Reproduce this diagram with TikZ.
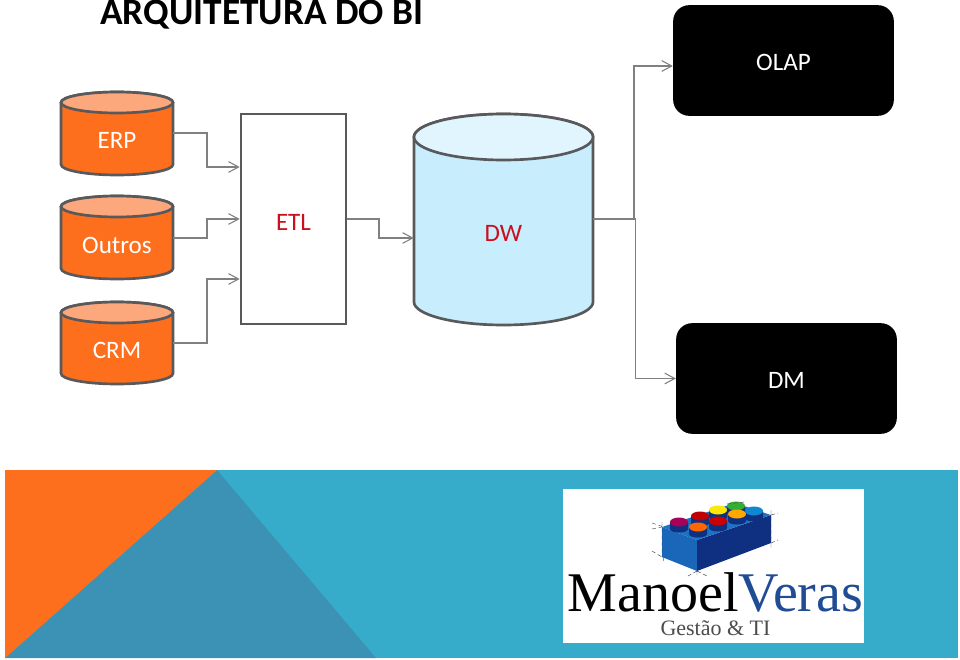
\documentclass[tikz,border=0pt]{standalone}
\usepackage{fontspec}
\setmainfont{Liberation Sans}
\newfontfamily\labelfont{Carlito}
\newfontfamily\logofont{Liberation Serif}
\usetikzlibrary{arrows.meta}
\definecolor{orangeA}{HTML}{FD6F1C}
\definecolor{orangeB}{HTML}{FCA77C}
\definecolor{edgeA}{HTML}{59595B}
\definecolor{wireA}{HTML}{808080}
\definecolor{dwbody}{HTML}{C8EDFD}
\definecolor{dwtop}{HTML}{E0F5FD}
\definecolor{redA}{HTML}{CC0F1F}
\definecolor{tealA}{HTML}{36ACCA}
\definecolor{tealB}{HTML}{3C92B5}
\definecolor{brickA}{HTML}{1A66B8}
\definecolor{brickB}{HTML}{0F2F80}
\definecolor{brickC}{HTML}{1E72C4}
\definecolor{veras}{HTML}{1F4C94}
\tikzset{
  x=0.75pt,y=-0.75pt,
  wire/.style={draw=wireA,line width=1pt,-{Straight Barb[length=7.5pt,width=8pt,line width=0.8pt]}},
  wireplain/.style={draw=wireA,line width=1pt},
  blackbox/.style={fill=black,rounded corners=12pt,inner sep=0pt,minimum width=165.5pt,minimum height=83pt},
  anchorbox/.style={inner sep=0pt,minimum width=84pt,minimum height=62pt},
  cyllabel/.style={text=white,font=\labelfont\fontsize{18.8}{18}\selectfont,inner sep=0pt},
  redlabel/.style={text=redA,font=\labelfont\fontsize{18.8}{18}\selectfont,inner sep=0pt},
  tick/.style={draw=black!70,line width=0.35pt,densely dashed}
}
% left x, right x, top y, bottom y, half ellipse height, body colour, top colour
\newcommand{\drum}[7]{%
  \path[draw=edgeA,line width=2pt,fill=#6] (#1,#3+#5) -- (#1,#4-#5) arc[start angle=180,end angle=0,x radius={(#2-#1)/2},y radius=#5] -- (#2,#3+#5) arc[start angle=0,end angle=-180,x radius={(#2-#1)/2},y radius=#5] -- cycle;
  \path[draw=edgeA,line width=2pt,fill=#7] ({(#1+#2)/2},#3+#5) ellipse[x radius={(#2-#1)/2},y radius=#5];
}
\newcommand{\studmark}[4]{%
  \fill[#4] (#1-9,#2) -- (#1-9,#2+7) arc[start angle=180,end angle=0,x radius=9,y radius=3.5] -- (#1+9,#2) -- cycle;
  \fill[#3] (#1,#2) ellipse[x radius=9,y radius=4.5];
}
\begin{document}
\begin{tikzpicture}
\useasboundingbox (0,0) rectangle (960,660);
\fill[white] (0,0) rectangle (960,660);

% bottom band
\fill[tealA] (5,470) rectangle (958,658);
\fill[tealB] (217,470) -- (376,658) -- (5,658) -- cycle;
\fill[orangeA] (5,470) -- (217,470) -- (5,658) -- cycle;

% title
\node[anchor=base west,inner sep=0pt,font=\labelfont\bfseries\fontsize{28}{28}\selectfont] (title) at (100,25) {ARQUITETURA DO BI};

% source cylinders
\drum{61}{173}{92}{175}{10.5}{orangeA}{orangeB}
\node[anchorbox] (erp) at (117,133) {};
\node[cyllabel] (erplabel) at (117,140) {ERP};

\drum{61}{173}{196}{279}{10.5}{orangeA}{orangeB}
\node[anchorbox] (outros) at (117,238) {};
\node[cyllabel] (outroslabel) at (117,245) {Outros};

\drum{61}{173}{302}{384}{10.5}{orangeA}{orangeB}
\node[anchorbox] (crm) at (117,343) {};
\node[cyllabel] (crmlabel) at (117,350) {CRM};

% ETL
\node[draw=edgeA,line width=2pt,fill=white,inner sep=0pt,minimum width=78.75pt,minimum height=157.5pt] (etl) at (293.5,219) {};
\node[redlabel] (etllabel) at (293.5,222) {ETL};

% DW
\drum{414}{593}{114}{325}{23}{dwbody}{dwtop}
\node[inner sep=0pt,minimum width=134.25pt,minimum height=157.5pt] (dw) at (503.5,219) {};
\node[redlabel] (dwlabel) at (503.5,233) {DW};

% OLAP and DM
\node[blackbox] (olap) at (783.5,60.5) {};
\node[cyllabel] (olaplabel) at (783.5,62.5) {OLAP};
\node[blackbox] (dm) at (786.5,378.5) {};
\node[cyllabel] (dmlabel) at (786.5,380.5) {DM};

% connectors
\coordinate (etlA) at (etl.west |- 0,167);
\coordinate (etlB) at (etl.west |- 0,219);
\coordinate (etlC) at (etl.west |- 0,279);
\coordinate (dwIn) at (dw.west |- 0,238);
\coordinate (olapIn) at (olap.west |- 0,66);
\draw[wire] (erp.east) -| (207,167) -- (etlA);
\draw[wire] (outros.east) -| (207,219) -- (etlB);
\draw[wire] (crm.east) -| (207,279) -- (etlC);
\draw[wire] (etl.east) -| (379,238) -- (dwIn);
\draw[wireplain] (dw.east) -- (635.5,219);
\draw[wire] (634,219) |- (olapIn);
\draw[wire] (635.5,219) |- (dm.west);

% logo
\node[fill=white,inner sep=0pt,minimum width=226pt,minimum height=115.5pt] (logo) at (713.5,566) {};
% brick
\fill[brickA] (662,527) -- (697,540) -- (697,571) -- (662,557) -- cycle;
\fill[brickB] (697,540) -- (771,515) -- (771,543) -- (697,571) -- cycle;
\fill[brickC] (662,527) -- (697,540) -- (771,515) -- (735,503) -- cycle;
\studmark{736}{506}{green!60!black!80}{brickB}
\studmark{718}{510}{yellow!90!orange}{brickB}
\studmark{754}{511}{cyan!70!blue}{brickB}
\studmark{700}{516}{red!75!black}{brickB}
\studmark{737}{514}{orange!70!yellow}{brickB}
\studmark{679}{522}{violet!70!red}{brickB}
\studmark{718}{521}{red!80!black}{brickB}
\studmark{698}{527}{orange!80!red}{brickB}
\draw[tick] (652,523) -- (664,527) (652,529) -- (662,527) (662,522) -- (662,557) (652,551) -- (662,557) (663,557) -- (664,562);
\draw[tick] (697,571) -- (688,576) (697,571) -- (707,576) (697,571) -- (697,576);
\draw[tick] (771,510) -- (771,549) (771,515) -- (778,513) (771,543) -- (778,540);
\draw[tick] (727,504) -- (745,502);
\node[anchor=base,inner sep=0pt,font=\logofont\fontsize{42}{42}\selectfont] (logoname) at (715.5,611) {Manoel\textcolor{veras}{Veras}};
\node[anchor=base,inner sep=0pt,text=black!70,font=\logofont\fontsize{16.5}{16}\selectfont] (logosub) at (715.5,635) {Gestão \& TI};
\end{tikzpicture}
\end{document}
